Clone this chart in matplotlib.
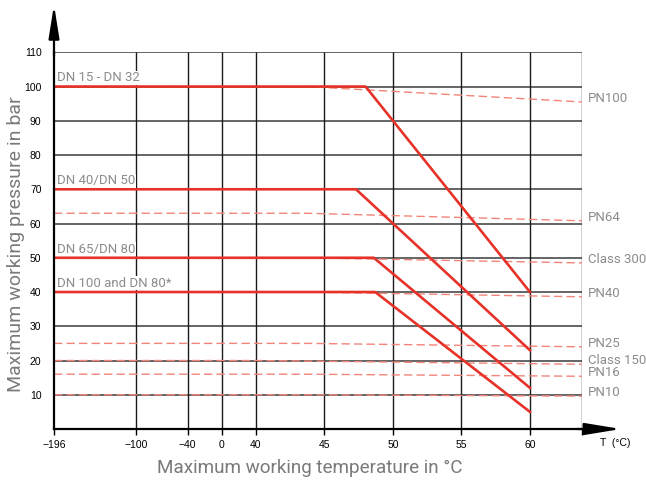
import numpy as np
import matplotlib
matplotlib.use("Agg")
import matplotlib.pyplot as plt

plt.rcParams["font.family"] = ["Roboto", "DejaVu Sans"]

# ── Data ─────────────────────────────────────────────────────
T_TICKS   = [-196, -100, -40, 0, 40, 45, 50, 55, 60]
T_END     = 63.8
P_TICKS   = [10, 20, 30, 40, 50, 60, 70, 80, 90, 100, 110]

DN_LABELS = ["DN 15 - DN 32", "DN 40/DN 50", "DN 65/DN 80", "DN 100 and DN 80*"]
DN_P_MAX  = [100, 70, 50, 40]
DN_T_KNEE = [48.0, 47.3, 48.6, 48.7]
DN_P_60   = [40, 23, 12, 5]

PN_LABELS = ["PN100", "PN64", "Class 300", "PN40", "PN25", "Class 150", "PN16", "PN10"]
PN_P_LOW  = [100, 63, 50, 40, 25, 20, 16, 10]
PN_T_KNEE = [43.7, 43.7, 43.7, 43.7, 43.7, 40.0, 43.7, 43.7]
PN_P_END  = [95.5, 60.8, 48.5, 38.6, 24.0, 18.9, 15.4, 9.6]

RED   = "#e63228"
DASH  = "#f2857a"
GREY  = "#8c8c8c"

# piecewise axis: compressed below 40 °C, stretched above
KNOTS_T = [-196, 40, T_END]
KNOTS_P = [0, 202, 528]


def fwd(t):
    return np.interp(t, KNOTS_T, KNOTS_P)


def inv(p):
    return np.interp(p, KNOTS_P, KNOTS_T)


fig = plt.figure(figsize=(6.46, 4.87), dpi=100)
ax = fig.add_axes([54 / 646, 58 / 487, 528 / 646, 376.7 / 487])
ax.set_xscale("function", functions=(fwd, inv))
ax.set_xlim(-196, T_END)
ax.set_ylim(0, 110)

# grid
ax.hlines(P_TICKS, -196, T_END, color="#3a3a3a", lw=1.1, zorder=1)
ax.vlines(T_TICKS[1:] + [T_END], 0, 110, color="#1a1a1a", lw=1.0, zorder=1)

# pressure rating lines (dashed)
for lab, p0, tk, p1 in zip(PN_LABELS, PN_P_LOW, PN_T_KNEE, PN_P_END):
    ax.plot([-196, tk, T_END], [p0, p0, p1], color=DASH, lw=1.0,
            dashes=(6, 3), zorder=2)
    ax.annotate(lab, xy=(T_END, p1 + 1.0), xytext=(4, 0),
                textcoords="offset points", ha="left", va="center",
                fontsize=9.5, color=GREY, annotation_clip=False)

# nominal size lines (solid red)
for lab, p, tk, p60 in zip(DN_LABELS, DN_P_MAX, DN_T_KNEE, DN_P_60):
    ax.plot([-196, tk, 60], [p, p, p60], color=RED, lw=1.9, zorder=3)
    ax.text(-192.5, p + 1.5, lab, ha="left", va="baseline", fontsize=9.5,
            color=GREY, zorder=4,
            bbox=dict(facecolor="white", edgecolor="none", pad=0.3))

# axes styling
for s in ["top", "right"]:
    ax.spines[s].set_visible(False)
ax.spines["left"].set_linewidth(1.6)
ax.spines["bottom"].set_linewidth(1.6)
ax.spines["left"].set_zorder(5)
ax.spines["bottom"].set_zorder(5)

ax.set_xticks(T_TICKS + [T_END])
ax.set_xticklabels([f"{t}".replace("-", "\u2212") for t in T_TICKS] + [""])
ax.xaxis.set_minor_locator(matplotlib.ticker.NullLocator())
ax.set_yticks(P_TICKS)
ax.set_yticklabels([str(p) for p in P_TICKS])
ax.tick_params(axis="x", length=4, width=1.0, pad=4, direction="out")
ax.tick_params(axis="y", length=0, pad=9)
for lbl in ax.get_xticklabels() + ax.get_yticklabels():
    lbl.set_fontfamily(["Liberation Sans", "DejaVu Sans"])
    lbl.set_fontsize(7.5)

# arrow heads on both axes
ax.annotate("", xy=(0, 1.126), xytext=(0, 0.99), xycoords="axes fraction",
            arrowprops=dict(arrowstyle="-|>,head_length=2.0,head_width=0.32",
                            mutation_scale=10, lw=1.6, color="black",
                            shrinkA=0, shrinkB=0), annotation_clip=False)
ax.annotate("", xy=(1.074, 0), xytext=(0.99, 0), xycoords="axes fraction",
            arrowprops=dict(arrowstyle="-|>,head_length=2.2,head_width=0.36",
                            mutation_scale=10, lw=1.6, color="black",
                            shrinkA=0, shrinkB=0), annotation_clip=False)

fig.text(615 / 646, 1 - 443 / 487, "T  (\u00b0C)", ha="center", va="center",
         fontsize=7.5, family=["Liberation Sans", "DejaVu Sans"])

fig.text(310 / 646, 1 - 468 / 487, "Maximum working temperature in \u00b0C",
         ha="center", va="center", fontsize=13.6, color="#7a7a7a")
fig.text(16 / 646, 1 - 244 / 487, "Maximum working pressure in bar",
         ha="center", va="center", rotation=90, fontsize=14, color="#7a7a7a")

fig.savefig("out.png", dpi=100)
